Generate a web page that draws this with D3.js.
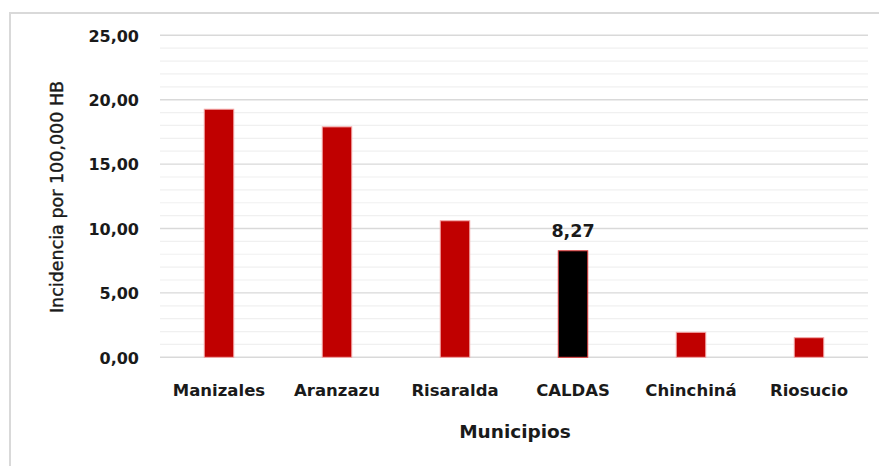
<!DOCTYPE html>
<html>
<head>
<meta charset="utf-8">
<script src="https://cdn.jsdelivr.net/npm/d3@7/dist/d3.min.js"></script>
<style>
  html, body { margin: 0; padding: 0; background: #fff; }
  svg { display: block; font-family: "DejaVu Sans", sans-serif; }
</style>
</head>
<body>
<svg id="chart" width="879" height="466"></svg>
<script>
const categories = ["Manizales", "Aranzazu", "Risaralda", "CALDAS", "Chinchiná", "Riosucio"];
const values = [19.26, 17.89, 10.60, 8.27, 1.94, 1.52];
const highlight = ["CALDAS"];
const labelled = ["CALDAS"];
const majorTicks = [0, 5, 10, 15, 20, 25];
const minorTicks = d3.range(0, 26, 1);
const yTitle = "Incidencia por 100,000 HB";
const xTitle = "Municipios";

const svg = d3.select("#chart");
const W = 879, H = 466;
const plot = { left: 160, right: 868, top: 35.3, bottom: 357.3 };
const FONT = "'DejaVu Sans', sans-serif";

// frame (top and left edges visible)
svg.append("path")
  .attr("d", `M10,${H} L10,13 L${W},13`)
  .attr("fill", "none").attr("stroke", "#d9d9d9").attr("stroke-width", 2);

const x = d3.scaleBand().domain(categories).range([plot.left, plot.right]).paddingInner(0.75).paddingOuter(0.375);
const y = d3.scaleLinear().domain([0, 25]).range([plot.bottom, plot.top]);

const fmt = v => d3.format(".2f")(v).replace(".", ",");

// minor gridlines
svg.append("g").selectAll("line").data(minorTicks.filter(t => t % 5 !== 0)).join("line")
  .attr("x1", plot.left).attr("x2", plot.right)
  .attr("y1", d => y(d)).attr("y2", d => y(d))
  .attr("stroke", "#f0f0f0").attr("stroke-width", 1.2);

// major gridlines
svg.append("g").selectAll("line").data(majorTicks).join("line")
  .attr("x1", plot.left).attr("x2", plot.right)
  .attr("y1", d => y(d)).attr("y2", d => y(d))
  .attr("stroke", "#d9d9d9").attr("stroke-width", 1.4);

// y axis labels
const yAxis = d3.axisLeft(y).tickValues(majorTicks).tickFormat(fmt).tickSize(0).tickPadding(0);
const gy = svg.append("g").attr("transform", "translate(139,0)").call(yAxis);
gy.select(".domain").remove();
gy.selectAll("text").attr("font-family", FONT).attr("font-size", 16)
  .attr("font-weight", 700).attr("fill", "#1a1a1a").attr("dy", "0.36em");

// bars
svg.append("g").selectAll("rect").data(categories).join("rect")
  .attr("x", d => x(d)).attr("width", x.bandwidth())
  .attr("y", (d, i) => y(values[i])).attr("height", (d, i) => y(0) - y(values[i]))
  .attr("fill", d => highlight.includes(d) ? "#000000" : "#c00000")
  .attr("stroke", d => highlight.includes(d) ? "#e03a3a" : "#f3a6a6")
  .attr("stroke-width", 1);

// data label
svg.append("g").selectAll("text").data(categories.filter(c => labelled.includes(c))).join("text")
  .attr("x", d => x(d) + x.bandwidth() / 2)
  .attr("y", d => y(values[categories.indexOf(d)]) - 14)
  .attr("text-anchor", "middle").attr("font-family", FONT).attr("font-size", 17.5).attr("font-weight", 700).attr("fill", "#1a1a1a")
  .text(d => fmt(values[categories.indexOf(d)]));

// x axis labels
const xAxis = d3.axisBottom(x).tickSize(0).tickPadding(0);
const gx = svg.append("g").attr("transform", `translate(0,${plot.bottom})`).call(xAxis);
gx.select(".domain").remove();
gx.selectAll("text").attr("font-family", FONT).attr("font-size", 16.5)
  .attr("font-weight", 700).attr("fill", "#1a1a1a").attr("dy", "0").attr("y", 39);

// axis titles
svg.append("text").attr("x", 515).attr("y", 438).attr("text-anchor", "middle").attr("font-family", FONT)
  .attr("font-size", 18.5).attr("font-weight", 700).attr("fill", "#1a1a1a").text(xTitle);

svg.append("text").attr("transform", "translate(63,197) rotate(-90)").attr("text-anchor", "middle").attr("font-family", FONT)
  .attr("font-size", 17.5).attr("font-weight", 400).attr("fill", "#1a1a1a")
  .attr("stroke", "#1a1a1a").attr("stroke-width", 0.4).text(yTitle);
</script>
</body>
</html>
